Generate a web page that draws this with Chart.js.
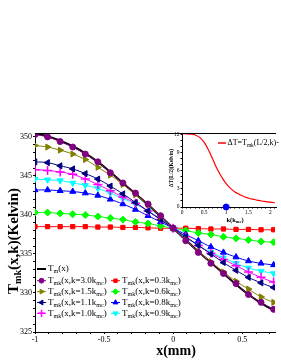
<!DOCTYPE html>
<html>
<head>
<meta charset="utf-8">
<script src="https://cdn.jsdelivr.net/npm/chart.js@4/dist/chart.umd.min.js"></script>
<style>
  html, body { margin: 0; padding: 0; background: #fff; overflow: hidden; }
  #wrap { position: relative; width: 281px; height: 363px; }
  #main { position: absolute; left: 0; top: 0; }
  #inset { position: absolute; left: 160px; top: 128px; }
</style>
</head>
<body>
<div id="wrap">
  <canvas id="main" width="281" height="363"></canvas>
  <canvas id="inset" width="121" height="100"></canvas>
</div>
<script>
// x positions (mm) of the computed points
const xs = [-1, -0.909, -0.818, -0.727, -0.636, -0.545, -0.455, -0.364, -0.273, -0.182, -0.091, 0,
  0.091, 0.182, 0.273, 0.364, 0.455, 0.545, 0.636, 0.727, 0.818, 0.909, 1];

const tm  = [350.4, 350.1, 349.5, 348.8, 347.9, 346.8, 345.5, 344.1, 342.7, 341.3, 339.8, 338.3,
  336.8, 335.3, 333.9, 332.5, 331.1, 329.8, 328.7, 327.8, 327.1, 326.5, 326.2];
const k30 = [350.3, 350.0, 349.4, 348.7, 347.8, 346.8, 345.4, 344.1, 342.8, 341.4, 339.9, 338.3,
  336.7, 335.2, 333.8, 332.5, 331.2, 329.8, 328.8, 327.9, 327.2, 326.6, 326.3];
const k15 = [348.9, 348.7, 348.3, 347.8, 347.1, 346.1, 345.1, 343.9, 342.6, 341.3, 339.8, 338.3,
  336.8, 335.3, 334.0, 332.7, 331.5, 330.5, 329.5, 328.8, 328.3, 327.9, 327.7];
const k11 = [346.8, 346.7, 346.3, 345.9, 345.3, 344.6, 343.7, 342.7, 341.6, 340.5, 339.4, 338.3,
  337.2, 336.1, 335.0, 333.9, 332.9, 332.0, 331.3, 330.7, 330.3, 329.9, 329.8];
const k10 = [345.8, 345.7, 345.5, 345.2, 344.6, 343.9, 343.1, 342.3, 341.5, 340.5, 339.4, 338.3,
  337.2, 336.1, 335.1, 334.3, 333.5, 332.7, 332.0, 331.4, 331.1, 330.9, 330.8];
const k09 = [344.6, 344.5, 344.4, 344.1, 343.8, 343.4, 342.8, 342.1, 341.4, 340.5, 339.5, 338.3,
  337.1, 336.1, 335.2, 334.5, 333.8, 333.2, 332.8, 332.5, 332.2, 332.1, 332.0];
const k08 = [343.2, 343.2, 343.1, 343.0, 342.8, 342.5, 342.0, 341.4, 340.7, 339.9, 339.1, 338.3,
  337.5, 336.7, 335.9, 335.2, 334.6, 334.1, 333.8, 333.6, 333.5, 333.4, 333.4];
const k06 = [340.3, 340.3, 340.2, 340.1, 340.0, 339.8, 339.6, 339.4, 339.1, 338.9, 338.6, 338.3,
  338.0, 337.7, 337.5, 337.2, 337.0, 336.8, 336.6, 336.5, 336.4, 336.3, 336.3];
const k03 = [338.5, 338.5, 338.5, 338.5, 338.5, 338.45, 338.45, 338.4, 338.4, 338.35, 338.3, 338.3,
  338.3, 338.25, 338.2, 338.2, 338.15, 338.15, 338.1, 338.1, 338.1, 338.1, 338.1];

// inset: ΔT against k (in units of k_mc)
const kVals = [0, 0.1, 0.2, 0.3, 0.4, 0.5, 0.6, 0.7, 0.8, 0.9, 1.0, 1.1, 1.2, 1.3, 1.4, 1.5,
  1.6, 1.7, 1.8, 1.9, 2.0, 2.1];
const dT = [12.2, 12.2, 12.15, 12.0, 11.6, 10.8, 9.5, 7.9, 6.3, 5.0, 3.9, 3.1, 2.5, 2.1, 1.75, 1.5,
  1.3, 1.15, 1.0, 0.9, 0.8, 0.72];

const FONT = '"Liberation Serif", "DejaVu Serif", serif';
Chart.defaults.font.family = FONT;
Chart.defaults.color = '#000';

function pts(ys) {
  return xs.map((x, i) => ({ x, y: ys[i] }));
}

// text with subscripts: parts = [[text, isSub], ...]
function richText(ctx, parts, x, y, size, bold, align) {
  const w8 = bold ? 'bold ' : '';
  const base = w8 + size + 'px ' + FONT;
  const sub = w8 + (size * 0.68).toFixed(1) + 'px ' + FONT;
  let w = 0;
  parts.forEach((p) => { ctx.font = p[1] ? sub : base; w += ctx.measureText(p[0]).width; });
  let cx = align === 'center' ? x - w / 2 : x;
  ctx.textAlign = 'left';
  ctx.textBaseline = 'middle';
  parts.forEach((p) => {
    ctx.font = p[1] ? sub : base;
    ctx.fillText(p[0], cx, y + (p[1] ? size * 0.3 : 0));
    cx += ctx.measureText(p[0]).width;
  });
}

function mkLabel(k) {
  return [['T'], ['mk', 1], ['(x,k=' + k + 'k'], ['mc', 1], [')']];
}

const SERIES = [
  { label: 'T_m(x)', data: tm, color: '#000000', style: false, width: 2, order: 9 },
  { label: '3.0', data: k30, color: '#800080', style: 'circle', r: 3, order: 1 },
  { label: '1.5', data: k15, color: '#808000', style: 'triangle', rot: 90, r: 3.5, order: 2 },
  { label: '1.1', data: k11, color: '#000080', style: 'triangle', rot: 270, r: 3.5, order: 3 },
  { label: '1.0', data: k10, color: '#ff00ff', style: 'cross', r: 4.5, bw: 1.5, order: 4 },
  { label: '0.3', data: k03, color: '#ff0000', style: 'rect', r: 3, order: 8 },
  { label: '0.6', data: k06, color: '#00ff00', style: 'rectRot', r: 3.5, order: 7 },
  { label: '0.8', data: k08, color: '#0000ff', style: 'triangle', r: 3.5, order: 6 },
  { label: '0.9', data: k09, color: '#00ffff', style: 'triangle', rot: 180, r: 3.5, order: 5 },
];

const legendSpots = [
  [37, 269], [37, 280.7], [37, 291.6], [37, 302.5], [37, 313.3],
  [111, 280.7], [111, 291.6], [111, 302.5], [111, 313.3],
];

const mainDecor = {
  id: 'mainDecor',
  afterDraw(chart) {
    const ctx = chart.ctx;
    const a = chart.chartArea;
    ctx.save();
    ctx.strokeStyle = '#000';
    ctx.lineWidth = 1;
    ctx.beginPath();
    ctx.moveTo(a.left, a.top + 0.5);
    ctx.lineTo(a.right, a.top + 0.5);
    ctx.stroke();
    ctx.fillStyle = '#000';
    // axis titles
    richText(ctx, [['x(mm)']], 176, 351, 14, true, 'center');
    ctx.save();
    ctx.translate(14, 241);
    ctx.rotate(-Math.PI / 2);
    richText(ctx, [['T'], ['mk', 1], ['(x,k)(Kelvin)']], 0, 0, 15, true, 'center');
    ctx.restore();
    // legend
    SERIES.forEach((s, i) => {
      const [lx, ly] = legendSpots[i];
      ctx.strokeStyle = s.color;
      ctx.fillStyle = s.color;
      ctx.lineWidth = s.width || 1;
      ctx.beginPath();
      ctx.moveTo(lx, ly);
      ctx.lineTo(lx + 9, ly);
      ctx.stroke();
      if (s.style) {
        ctx.lineWidth = s.bw || 1;
        Chart.helpers.drawPoint(ctx, {
          pointStyle: s.style, rotation: s.rot || 0, radius: (s.r || 3) * 0.8, borderWidth: s.bw || 1,
        }, lx + 4.5, ly);
      }
      ctx.fillStyle = '#000';
      const parts = i === 0 ? [['T'], ['m', 1], ['(x)']] : mkLabel(s.label);
      richText(ctx, parts, lx + 11, ly, 9, false, 'left');
    });
    ctx.restore();
  },
};

function every(step, digits) {
  return (v) => {
    const q = v / step;
    return Math.abs(q - Math.round(q)) < 1e-6 ? String(+v.toFixed(digits)) : '';
  };
}

// fixed tick positions (minor ticks included), so the top label is never dropped
function tickList(from, to, step) {
  return (scale) => {
    const out = [];
    for (let v = from; v <= to + 1e-9; v += step) out.push({ value: +v.toFixed(4) });
    scale.ticks = out;
  };
}

new Chart(document.getElementById('main'), {
  type: 'line',
  data: {
    datasets: SERIES.map((s) => ({
      label: s.label,
      data: pts(s.data),
      borderColor: s.color,
      backgroundColor: s.color,
      borderWidth: s.width || 1,
      pointStyle: s.style || 'circle',
      pointRotation: s.rot || 0,
      pointRadius: s.style ? s.r : 0,
      pointBorderWidth: s.bw || 1,
      tension: 0.4,
      order: s.order,
    })),
  },
  options: {
    responsive: false,
    animation: false,
    layout: { padding: { top: 133, left: 0, right: 0, bottom: 0 } },
    plugins: { legend: { display: false }, tooltip: { enabled: false } },
    scales: {
      x: {
        type: 'linear',
        min: -1,
        max: 0.737,
        afterFit: (s) => { s.height = 31; },
        afterBuildTicks: tickList(-1, 0.7, 0.1),
        grid: { drawOnChartArea: false, tickLength: 2, color: '#000' },
        border: { color: '#000' },
        ticks: {
          autoSkip: false, maxRotation: 0, padding: 1,
          font: { size: 8 }, callback: every(0.5, 1),
        },
      },
      y: {
        min: 325,
        max: 350.5,
        afterFit: (s) => { s.width = 35; },
        afterBuildTicks: tickList(325, 350, 1),
        grid: { drawOnChartArea: false, tickLength: 2, color: '#000' },
        border: { color: '#000' },
        ticks: {
          autoSkip: false, padding: 1,
          font: { size: 8 }, callback: every(5, 0),
        },
      },
    },
  },
  plugins: [mainDecor],
});

const insetDecor = {
  id: 'insetDecor',
  beforeDraw(chart) {
    const a = chart.chartArea;
    chart.ctx.save();
    chart.ctx.fillStyle = '#fff';
    chart.ctx.fillRect(a.left, a.top, a.right - a.left, a.bottom - a.top);
    chart.ctx.restore();
  },
  afterDraw(chart) {
    const ctx = chart.ctx;
    const a = chart.chartArea;
    ctx.save();
    ctx.strokeStyle = '#000';
    ctx.lineWidth = 1;
    ctx.beginPath();
    ctx.moveTo(a.left, a.top + 0.5);
    ctx.lineTo(a.right, a.top + 0.5);
    ctx.stroke();
    ctx.fillStyle = '#000';
    richText(ctx, [['k(k'], ['mc', 1], [')']], 75, 92, 6.5, true, 'center');
    ctx.save();
    ctx.translate(12, 40);
    ctx.rotate(-Math.PI / 2);
    richText(ctx, [['ΔT(L/2)(Kelvin)']], 0, 0, 5.5, true, 'center');
    ctx.restore();
    // legend
    ctx.strokeStyle = '#ff0000';
    ctx.lineWidth = 1.5;
    ctx.beginPath();
    ctx.moveTo(58, 15);
    ctx.lineTo(66, 15);
    ctx.stroke();
    richText(ctx, [['ΔT=T'], ['mk', 1], ['(L/2,k)-']], 67.5, 15, 8, false, 'left');
    ctx.restore();
  },
};

new Chart(document.getElementById('inset'), {
  type: 'line',
  data: {
    datasets: [
      {
        data: kVals.map((k, i) => ({ x: k, y: dT[i] })),
        borderColor: '#ff0000',
        borderWidth: 1.2,
        pointRadius: 0,
        tension: 0.4,
      },
      {
        data: [{ x: 1, y: 0 }],
        showLine: false,
        pointRadius: 3,
        backgroundColor: '#0000ff',
        borderColor: '#0000ff',
        clip: false,
      },
    ],
  },
  options: {
    responsive: false,
    animation: false,
    layout: { padding: { top: 5, left: 0, right: 0, bottom: 0 } },
    plugins: { legend: { display: false }, tooltip: { enabled: false } },
    scales: {
      x: {
        type: 'linear',
        min: 0,
        max: 2.13,
        afterFit: (s) => { s.height = 21; },
        afterBuildTicks: tickList(0, 2.1, 0.1),
        grid: { drawOnChartArea: false, tickLength: 1.5, color: '#000' },
        border: { color: '#000' },
        ticks: {
          autoSkip: false, maxRotation: 0, padding: 1,
          font: { size: 5.5 }, callback: every(0.5, 1),
        },
      },
      y: {
        min: 0,
        max: 12.33,
        afterFit: (s) => { s.width = 22; },
        afterBuildTicks: tickList(0, 12, 1),
        grid: { drawOnChartArea: false, tickLength: 1.5, color: '#000' },
        border: { color: '#000' },
        ticks: {
          autoSkip: false, padding: 1,
          font: { size: 5.5 }, callback: every(3, 0),
        },
      },
    },
  },
  plugins: [insetDecor],
});
</script>
</body>
</html>
